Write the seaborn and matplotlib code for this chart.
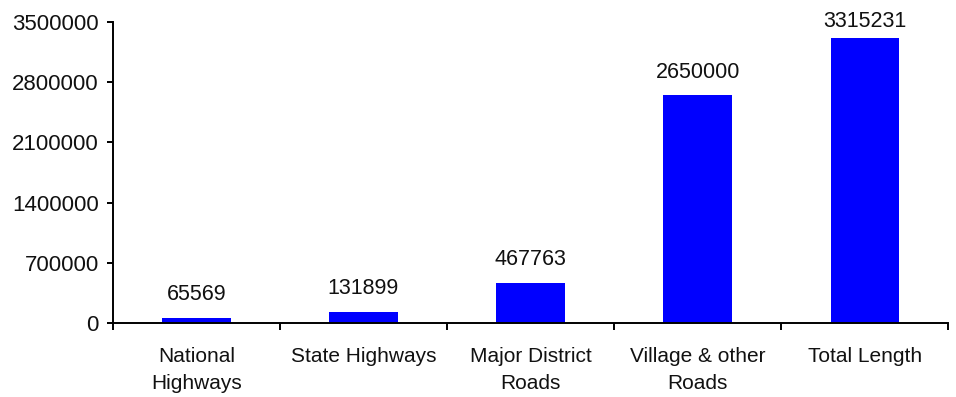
import matplotlib
matplotlib.use("Agg")
import matplotlib.pyplot as plt
import seaborn as sns
import pandas as pd
from matplotlib.ticker import FixedLocator

categories = ["National\nHighways", "State Highways", "Major District\nRoads",
              "Village & other\nRoads", "Total Length"]
lengths = [65569, 131899, 467763, 2650000, 3315231]
y_ticks = [0, 700000, 1400000, 2100000, 2800000, 3500000]

sns.set_theme(style="white")
plt.rcParams["font.family"] = ["Liberation Sans", "DejaVu Sans"]

df = pd.DataFrame({"road": categories, "length": lengths})

fig = plt.figure(figsize=(9.56, 3.97), dpi=100)
ax = fig.add_axes([0.118, 0.186, 0.874, 0.759])

sns.barplot(data=df, x="road", y="length", color="#0000FF", saturation=1,
            width=0.41, ax=ax, edgecolor="none")

ymax = y_ticks[-1]
for patch, val in zip(ax.patches, lengths):
    # labels near the top of the plot area are pulled closer to the bar
    off = 9 if patch.get_height() < 0.9 * ymax else 4
    ax.annotate(f"{val}", (patch.get_x() + patch.get_width() / 2, patch.get_height()),
                xytext=(0, off), textcoords="offset points",
                ha="center", va="bottom", fontsize=15.5, color="#111111")

ax.set_xlim(-0.5, 4.5)
ax.set_ylim(0, ymax)
ax.set_yticks(y_ticks)
ax.set_yticklabels([str(t) for t in y_ticks])
ax.set_xlabel("")
ax.set_ylabel("")

for side in ("top", "right"):
    ax.spines[side].set_visible(False)
for side in ("left", "bottom"):
    ax.spines[side].set_color("black")
    ax.spines[side].set_linewidth(1.4)

ax.tick_params(axis="y", which="major", direction="out", length=4, width=1.4,
               color="black", pad=6, labelsize=16, left=True)
ax.xaxis.set_minor_locator(FixedLocator([-0.5, 0.5, 1.5, 2.5, 3.5, 4.5]))
ax.tick_params(axis="x", which="major", length=0, pad=17, labelsize=15)
ax.tick_params(axis="x", which="minor", direction="out", length=5, width=1.4,
               color="black", bottom=True)
for lbl in ax.get_xticklabels():
    lbl.set_linespacing(1.55)
for lbl in ax.get_xticklabels() + ax.get_yticklabels():
    lbl.set_color("#111111")

fig.savefig("out.png", dpi=100)
